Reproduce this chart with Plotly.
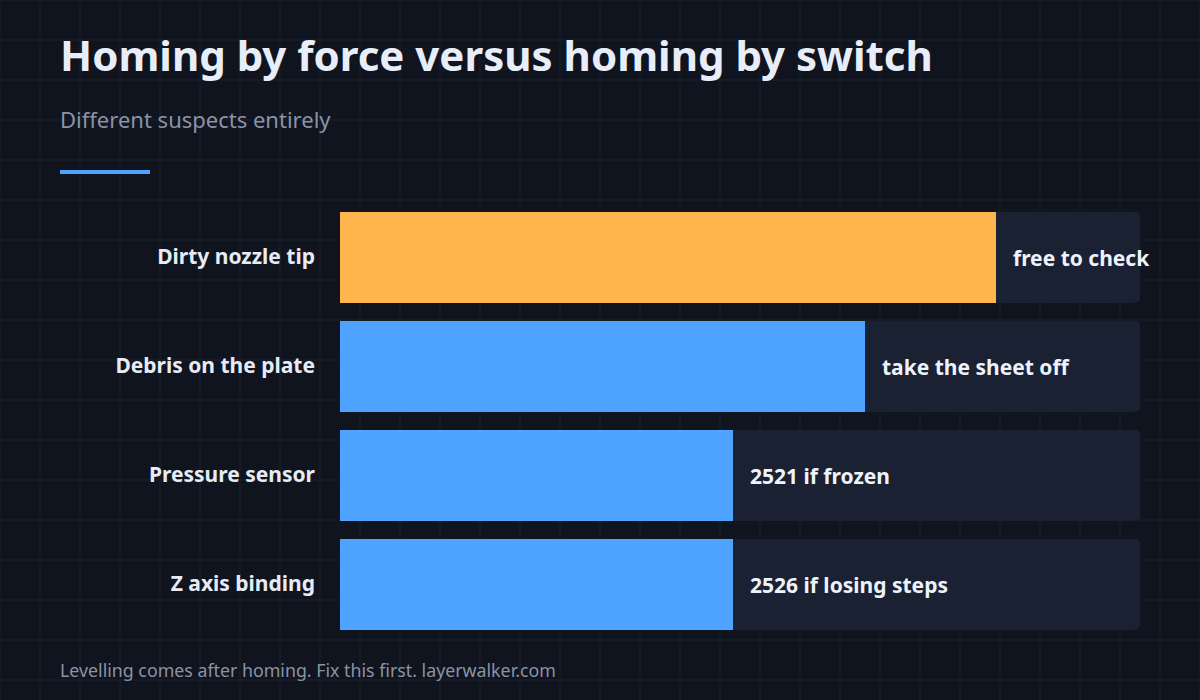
import plotly.graph_objects as go

# ---- data ----
categories = ["Dirty nozzle tip", "Debris on the plate", "Pressure sensor", "Z axis binding"]
values = [5, 4, 3, 3]
scale_max = 6.1
value_labels = ["free to check", "take the sheet off", "2521 if frozen", "2526 if losing steps"]
bar_colors = ["#FFB54D", "#4DA3FF", "#4DA3FF", "#4DA3FF"]

title = "Homing by force versus homing by switch"
subtitle = "Different suspects entirely"
footer = "Levelling comes after homing. Fix this first. layerwalker.com"

W, H = 1200, 700
BG = "#10141E"
GRID = "#1B202C"
TRACK = "#1A2132"
FONT = "Noto Sans"

fig = go.Figure()

# background track bars
fig.add_trace(go.Bar(
    y=categories, x=[scale_max] * len(categories), orientation="h",
    marker=dict(color=TRACK, cornerradius=5, line=dict(width=0)),
    hoverinfo="skip", showlegend=False, width=0.826,
))
# value bars
fig.add_trace(go.Bar(
    y=categories, x=values, orientation="h",
    marker=dict(color=bar_colors, cornerradius=5, line=dict(width=0)),
    showlegend=False, width=0.826,
))

# value annotations
for cat, v, lab in zip(categories, values, value_labels):
    fig.add_annotation(
        x=v, y=cat, xref="x", yref="y", text=f"<b>{lab}</b>",
        xanchor="left", yanchor="middle", xshift=15, yshift=-1, showarrow=False,
        font=dict(family=FONT, size=21, color="#EEF2FA"),
    )

# background grid (decorative, 40px)
shapes = []
for gx in range(0, W + 1, 40):
    shapes.append(dict(type="line", xref="paper", yref="paper", x0=gx / W, x1=gx / W, y0=0, y1=1,
                       line=dict(color=GRID, width=1), layer="below"))
for gy in range(0, H + 1, 40):
    shapes.append(dict(type="line", xref="paper", yref="paper", x0=0, x1=1, y0=1 - gy / H, y1=1 - gy / H,
                       line=dict(color=GRID, width=1), layer="below"))
# accent line
shapes.append(dict(type="rect", xref="paper", yref="paper", x0=60 / W, x1=150 / W,
                   y0=1 - 174 / H, y1=1 - 170 / H, fillcolor="#4DA3FF", line=dict(width=0)))

fig.add_annotation(x=58 / W, y=1 - 54 / H, xref="paper", yref="paper", text=f"<b>{title}</b>",
                   xanchor="left", yanchor="middle", showarrow=False,
                   font=dict(family=FONT, size=42, color="#E8EEF9"))
fig.add_annotation(x=58 / W, y=1 - 119 / H, xref="paper", yref="paper", text=subtitle,
                   xanchor="left", yanchor="middle", showarrow=False,
                   font=dict(family=FONT, size=22, color="#8A93A6"))
fig.add_annotation(x=58 / W, y=1 - 670 / H, xref="paper", yref="paper", text=footer,
                   xanchor="left", yanchor="middle", showarrow=False,
                   font=dict(family=FONT, size=17.8, color="#8A93A6"))

fig.update_layout(
    width=W, height=H,
    margin=dict(l=0, r=0, t=0, b=0),
    paper_bgcolor=BG, plot_bgcolor="rgba(0,0,0,0)",
    barmode="overlay", bargap=0,
    shapes=shapes,
    xaxis=dict(domain=[340 / W, 1140 / W], range=[0, scale_max], visible=False, fixedrange=True),
    yaxis=dict(domain=[1 - 638.5 / H, 1 - 202.5 / H], range=[3.5, -0.5],
               showgrid=False, zeroline=False, showline=False, ticks="",
               ticklabelstandoff=24, fixedrange=True,
               tickfont=dict(family=FONT, size=21, color="#E6EBF5", weight="bold")),
    font=dict(family=FONT),
)

fig.write_html(
    "out.html",
    config={"displayModeBar": False},
    post_script="document.body.style.margin='0';document.body.style.background='#10141E';",
)
